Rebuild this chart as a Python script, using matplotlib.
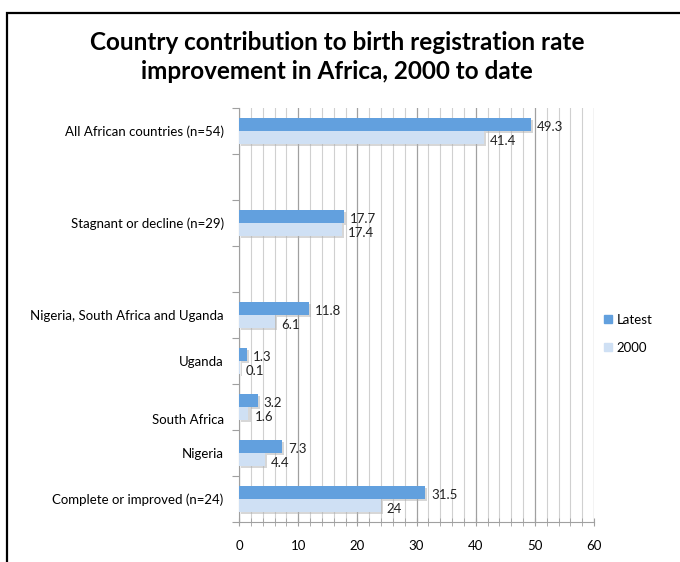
# -*- coding: utf-8 -*-

# Import required libraries
import matplotlib.pyplot as plt
import matplotlib.patches as mpatches
import matplotlib.patheffects as pe
from matplotlib.lines import Line2D
import numpy as np

plt.rcParams['font.family'] = ['Lato', 'DejaVu Sans']

# Categories, bottom to top (empty strings are blank slots)
categories = ['Complete or improved (n=24)', 'Nigeria', 'South Africa', 'Uganda',
              'Nigeria, South Africa and Uganda', '', 'Stagnant or decline (n=29)',
              '', 'All African countries (n=54)']
latest = [31.5, 7.3, 3.2, 1.3, 11.8, None, 17.7, None, 49.3]
y2000 = [24, 4.4, 1.6, 0.1, 6.1, None, 17.4, None, 41.4]
latest_labels = ['31.5', '7.3', '3.2', '1.3', '11.8', '', '17.7', '', '49.3']
y2000_labels = ['24', '4.4', '1.6', '0.1', '6.1', '', '17.4', '', '41.4']
series_names = ['Latest', '2000']

# Colors
c_latest = '#62a0de'
c_2000 = '#cfe0f4'

fs = 9.5

fig = plt.figure(figsize=(6.8, 5.62), dpi=100)
ax = fig.add_axes([239/680, 40/562, 355/680, 414/562])

pos = np.arange(len(categories))
h = 0.28
shadow = [pe.SimplePatchShadow(offset=(1.5, -1.5), shadow_rgbFace='#b0b0b0', alpha=0.5),
          pe.Normal()]
for i, (a, b) in enumerate(zip(latest, y2000)):
    if a is None:
        continue
    ax.barh(pos[i] + 0.14, a, height=h, color=c_latest, zorder=3, path_effects=shadow)
    ax.barh(pos[i] - 0.14, b, height=h, color=c_2000, zorder=3, path_effects=shadow)
    ax.text(a + 1.0, pos[i] + 0.08, latest_labels[i], va='center', ha='left',
            fontsize=fs, color='#222222', zorder=4)
    ax.text(b + 1.0, pos[i] - 0.22, y2000_labels[i], va='center', ha='left',
            fontsize=fs, color='#222222', zorder=4)

ax.set_xlim(0, 60)
ax.set_ylim(-0.5, len(categories) - 0.5)

# x axis: major every 10, minor every 2
ax.set_xticks(np.arange(0, 61, 10))
ax.set_xticks(np.arange(0, 61, 2), minor=True)
ax.grid(axis='x', which='major', color='#a0a0a0', lw=0.9, zorder=0)
ax.grid(axis='x', which='minor', color='#d0d0d0', lw=0.8, zorder=0)
ax.tick_params(axis='x', which='both', direction='inout', length=6, color='#a0a0a0',
               labelsize=fs, pad=10)

# y axis: tick marks at slot edges, labels at slot centers
label_pos = pos.astype(float)
label_pos[2] -= 0.25  # South Africa label sits a bit low
ax.set_yticks(np.arange(-0.5, len(categories), 1))
ax.set_yticklabels([])
ax.set_yticks(label_pos, minor=True)
ax.set_yticklabels(categories, minor=True, fontsize=fs)
ax.tick_params(axis='y', which='major', length=5, color='#a0a0a0')
ax.tick_params(axis='y', which='minor', length=0, pad=11)

for s in ['top', 'right']:
    ax.spines[s].set_visible(False)
for s in ['left', 'bottom']:
    ax.spines[s].set_color('#a0a0a0')

# Title
fig.text(337/680, 1 - 57/562, 'Country contribution to birth registration rate\n'
         'improvement in Africa, 2000 to date', ha='center', va='center',
         fontsize=17.5, fontweight='bold', linespacing=1.32)

# Legend
handles = [Line2D([], [], marker='s', ls='', color=c, ms=5.5) for c in [c_latest, c_2000]]
fig.legend(handles, series_names, loc='center left', bbox_to_anchor=(590/680, 1 - 334/562),
           frameon=False, fontsize=fs, handletextpad=0.1, labelspacing=1.2,
           handlelength=1.0)

# Outer frame
fig.patches.append(mpatches.Rectangle((7/680, -0.1), 1.1, (562 - 13)/562 + 0.1,
                                      transform=fig.transFigure, fill=False,
                                      edgecolor='black', lw=1.6))

plt.savefig('out.png', dpi=100)
